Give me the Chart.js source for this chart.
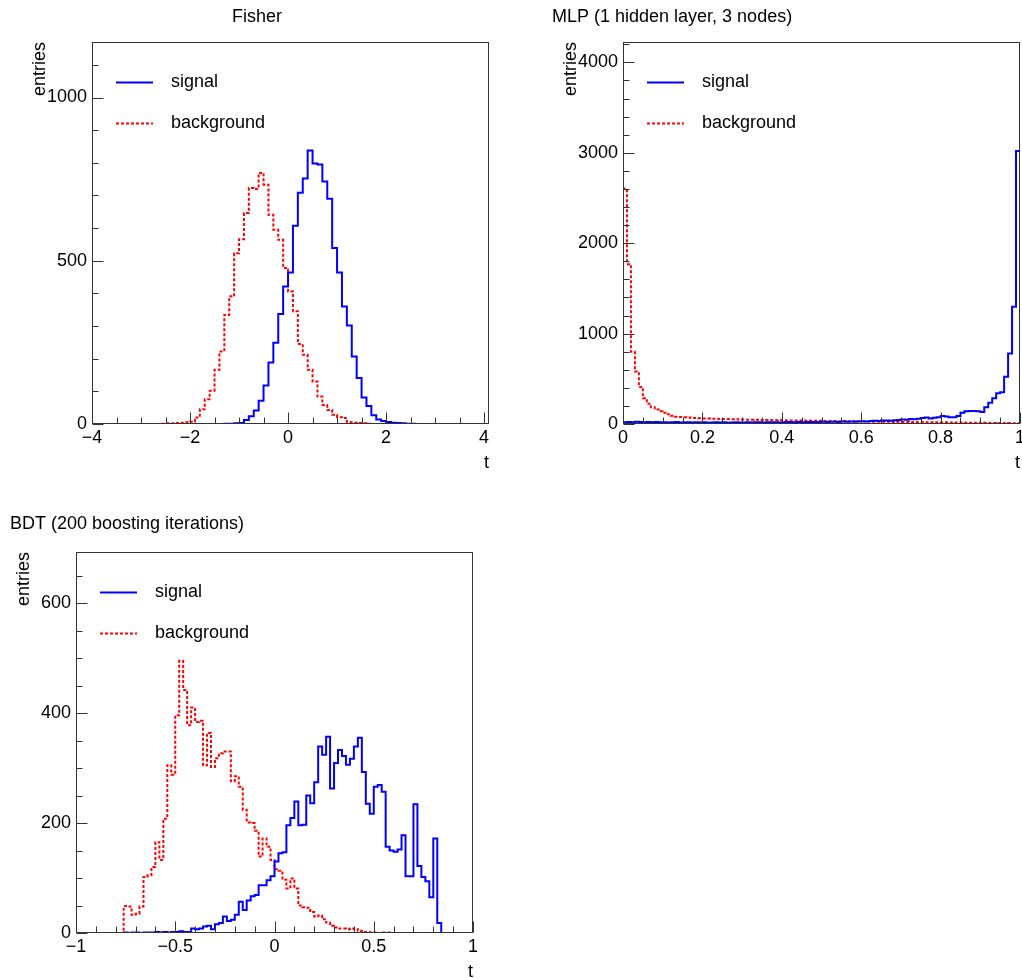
<!DOCTYPE html>
<html>
<head>
<meta charset="utf-8">
<title>Classifier output distributions</title>
<script src="https://cdn.jsdelivr.net/npm/chart.js@4.4.1/dist/chart.umd.min.js"></script>
<style>
  html, body { margin:0; padding:0; background:#fff; overflow:hidden; }
  body { width:1022px; height:978px; position:relative; }
  canvas { position:absolute; }
</style>
</head>
<body>
<canvas id="fisher" width="511" height="489" style="left:0;top:0"></canvas>
<canvas id="mlp" width="511" height="489" style="left:511px;top:0"></canvas>
<canvas id="bdt" width="511" height="500" style="left:0;top:489px"></canvas>
<script>
// ---------------------------------------------------------------
// Data (bin counts, left to right)

// Fisher: 81 bins of 0.1 starting at -4
const fisherBins = [-4, 4.1, 81];
const fisherSignal = [
  0,0,0,0,0,0,0,0,0,0, 0,0,0,0,0,0,0,0,0,0,
  0,0,0,0,0,0,0,1,1,2, 3,12,24,41,71,118,188,249,337,421,
  464,607,708,752,838,798,795,743,690,539, 464,360,302,207,141,81,55,27,14,9,
  6,4,3,2,1,1,0,0,0,0, 0,0,0,0,0,0,0,0,0,0, 0
];
const fisherBackground = [
  0,0,0,0,0,0,0,0,0,0, 0,0,0,0,1,2,2,3,4,5,
  7,20,45,76,102,166,222,334,391,523, 566,646,723,720,769,733,641,595,564,478,
  406,345,245,212,166,130,84,58,43,28, 21,18,5,4,3,2,1,0,0,0,
  0,0,0,0,0,0,0,0,0,0, 0,0,0,0,0,0,0,0,0,0, 0
];
const fisherXTicks = [-4, -2, 0, 2, 4];
const fisherYTicks = [0, 500, 1000];

// MLP: 100 bins of 0.01 starting at 0
const mlpBins = [0, 1, 100];
const mlpSignal = [
  18,22,20,24,21,19,23,20,22,18,
  20,17,19,21,16,18,20,17,19,16,
  18,15,17,19,16,18,15,17,19,16,
  17,19,16,18,20,17,19,18,20,17,
  19,21,18,20,22,19,21,23,20,22,
  24,22,26,25,23,27,26,28,25,30,
  31,29,33,36,34,38,40,37,42,45,
  50,48,55,52,58,65,72,62,70,75,
  88,84,74,76,88,125,140,144,144,140,
  132,184,236,284,339,350,523,781,1296,3020
];
const mlpBackground = [
  2604,1768,800,580,410,284,225,184,160,140,
  125,107,92,81,77,74,72,66,66,63,
  62,60,58,59,56,55,54,52,53,50,
  49,48,47,48,45,44,45,43,42,43,
  41,40,39,40,38,37,38,36,35,36,
  34,33,34,32,31,32,30,29,30,28,
  28,27,28,26,25,26,24,25,23,24,
  22,23,21,22,20,21,19,20,18,19,
  17,18,16,17,15,16,14,15,13,14,
  12,13,11,12,10,11,9,10,8,9
];
const mlpXTicks = [0, 0.2, 0.4, 0.6, 0.8, 1];
const mlpYTicks = [0, 1000, 2000, 3000, 4000];

// BDT: 100 bins of 0.02 starting at -1
const bdtBins = [-1, 1, 100];
const bdtSignal = [
  0,0,0,0,0,0,0,0,0,0, 0,0,1,0,1,1,0,1,1,1,
  2,1,2,1,2,2,3,2,2,8, 7,8,12,13,7,16,18,30,22,24,
  33,57,42,59,67,69,87,87,96,103, 130,145,147,196,209,239,196,197,250,236,
  274,339,324,357,263,309,333,322,306,317, 339,355,293,235,217,266,269,257,157,150,
  148,152,178,103,103,234,122,102,94,65, 172,18,0,0,0,0,0,0,0,0
];
const bdtBackground = [
  0,0,0,0,0,0,0,0,0,0, 0,0,49,48,33,35,48,102,105,120,
  165,133,208,305,288,396,495,442,378,410, 384,386,305,364,302,318,327,330,330,276,
  285,266,224,201,200,186,139,172,157,133, 116,113,97,81,99,81,50,47,46,38,
  30,32,25,19,13,10,8,8,7,8, 7,4,2,2,1,1,0,1,1,0,
  0,0,0,0,0,0,0,0,0,0, 0,0,0,0,0,0,0,0,0,0
];
const bdtXTicks = [-1, -0.5, 0, 0.5, 1];
const bdtYTicks = [0, 200, 400, 600];

// ---------------------------------------------------------------
// Style
const FAMILY = "'Liberation Sans', Arial, Helvetica, sans-serif";
const FONT = "18px " + FAMILY;
const TICK_MAJOR = 11, TICK_MINOR = 6;
const Y_AXIS_W = 70, X_AXIS_H = 54;

Chart.defaults.font.family = FAMILY;
Chart.defaults.font.size = 18;
Chart.defaults.color = '#000';

function fmtTick(v){ return v < 0 ? '\u2212' + String(-v) : String(v); }

// bin counts -> step points; each point sits on a bin's upper edge,
// stepped:'after' makes the segment ending there carry that bin's count
function histPoints(bins, values){
  const [lo, hi, n] = bins;
  const w = (hi - lo) / n;
  const pts = [{x: lo, y: 0}];
  values.forEach((v, i) => pts.push({x: lo + (i+1)*w, y: v}));
  return pts;
}

function isMajor(v, ticks){ return ticks.some(t => Math.abs(t - v) < 1e-9); }

// ROOT-like frame, inward ticks, legend box and pad title
const rootPad = {
  id: 'rootPad',
  afterDatasetsDraw(chart, args, o){
    const {ctx, chartArea: a, scales: {x, y}} = chart;
    const L = Math.round(a.left) + 0.5, R = Math.round(a.right) - 0.5;
    const T = Math.round(a.top) + 0.5, B = Math.round(a.bottom) - 0.5;
    ctx.save();
    ctx.strokeStyle = '#333';
    ctx.lineWidth = 1;
    ctx.setLineDash([]);
    ctx.beginPath();
    for (let k = Math.ceil(x.min / o.xMinor - 1e-9); k * o.xMinor <= x.max + 1e-9; k++) {
      const v = k * o.xMinor;
      const len = isMajor(v, o.xTicks) ? TICK_MAJOR : TICK_MINOR;
      const px = Math.round(x.getPixelForValue(v)) + 0.5;
      ctx.moveTo(px, B); ctx.lineTo(px, B - len);
    }
    for (let k = Math.ceil(y.min / o.yMinor - 1e-9); k * o.yMinor <= y.max + 1e-9; k++) {
      const v = k * o.yMinor;
      const len = isMajor(v, o.yTicks) ? TICK_MAJOR : TICK_MINOR;
      const py = Math.round(y.getPixelForValue(v)) + 0.5;
      ctx.moveTo(L, py); ctx.lineTo(L + len, py);
    }
    ctx.stroke();
    ctx.strokeRect(L, T, R - L, B - T);

    // legend
    ctx.font = FONT;
    ctx.textBaseline = 'middle';
    ctx.textAlign = 'left';
    ctx.fillStyle = '#000';
    chart.data.datasets.forEach((ds, i) => {
      const ly = Math.round(a.top + 40 + i * 41) + 0.5;
      ctx.beginPath();
      ctx.strokeStyle = ds.borderColor;
      ctx.lineWidth = ds.borderWidth;
      ctx.setLineDash(ds.borderDash || []);
      ctx.moveTo(a.left + 24, ly);
      ctx.lineTo(a.left + 61, ly);
      ctx.stroke();
      ctx.fillText(ds.label, a.left + 79, ly);
    });

    // title
    ctx.textAlign = o.titleAlign;
    ctx.fillText(o.title, o.titleX, o.titleY);
    ctx.restore();
  }
};

function makePanel(p){
  const canvas = document.getElementById(p.id);
  const [fl, ft, fr, fb] = p.frame;
  new Chart(canvas, {
    type: 'line',
    data: {
      datasets: [
        {label:'signal', data: histPoints(p.bins, p.sig), stepped:'after',
         borderColor:'#0000ff', borderWidth:2, pointRadius:0, fill:false},
        {label:'background', data: histPoints(p.bins, p.bkg), stepped:'after',
         borderColor:'#ff0000', borderWidth:2, borderDash:[3,2], pointRadius:0, fill:false}
      ]
    },
    options: {
      responsive:false, devicePixelRatio:1, animation:false,
      layout: {padding: {left: fl - Y_AXIS_W, top: ft, right: canvas.width - fr,
                         bottom: canvas.height - fb - X_AXIS_H}},
      plugins: {
        legend:{display:false}, tooltip:{enabled:false},
        rootPad: {xTicks:p.xTicks, yTicks:p.yTicks, xMinor:p.xMinor, yMinor:p.yMinor,
                  title:p.title, titleX:p.titleX, titleY:p.titleY, titleAlign:p.titleAlign}
      },
      scales: {
        x: {
          type:'linear', min:p.bins[0], max:p.bins[1],
          grid:{display:false, drawTicks:false}, border:{display:false},
          ticks:{autoSkip:false, maxRotation:0, padding:3, callback: v => fmtTick(v)},
          afterBuildTicks: s => { s.ticks = p.xTicks.map(v => ({value:v})); },
          afterFit: s => { s.height = X_AXIS_H; s.paddingLeft = 0; s.paddingRight = 0; },
          title:{display:true, text:'t', align:'end', padding:{top:0, bottom:4}}
        },
        y: {
          type:'linear', min:0, max:p.yMax,
          grid:{display:false, drawTicks:false}, border:{display:false},
          ticks:{autoSkip:false, padding:5, callback: v => fmtTick(v)},
          afterBuildTicks: s => { s.ticks = p.yTicks.map(v => ({value:v})); },
          afterFit: s => { s.width = Y_AXIS_W; s.paddingTop = 0; s.paddingBottom = 0; },
          title:{display:true, text:'entries', align:'end', padding:{top:7, bottom:0}}
        }
      }
    },
    plugins: [rootPad]
  });
}

makePanel({id:'fisher', frame:[92,42,489,424], bins:fisherBins, sig:fisherSignal, bkg:fisherBackground,
  xTicks:fisherXTicks, xMinor:0.5, yTicks:fisherYTicks, yMinor:100, yMax:1170,
  title:'Fisher', titleX:257, titleY:17, titleAlign:'center'});
makePanel({id:'mlp', frame:[112,42,509,424], bins:mlpBins, sig:mlpSignal, bkg:mlpBackground,
  xTicks:mlpXTicks, xMinor:0.05, yTicks:mlpYTicks, yMinor:200, yMax:4225,
  title:'MLP (1 hidden layer, 3 nodes)', titleX:41, titleY:17, titleAlign:'left'});
makePanel({id:'bdt', frame:[76,63,473,444], bins:bdtBins, sig:bdtSignal, bkg:bdtBackground,
  xTicks:bdtXTicks, xMinor:0.1, yTicks:bdtYTicks, yMinor:50, yMax:693,
  title:'BDT (200 boosting iterations)', titleX:10, titleY:35, titleAlign:'left'});
</script>
</body>
</html>
